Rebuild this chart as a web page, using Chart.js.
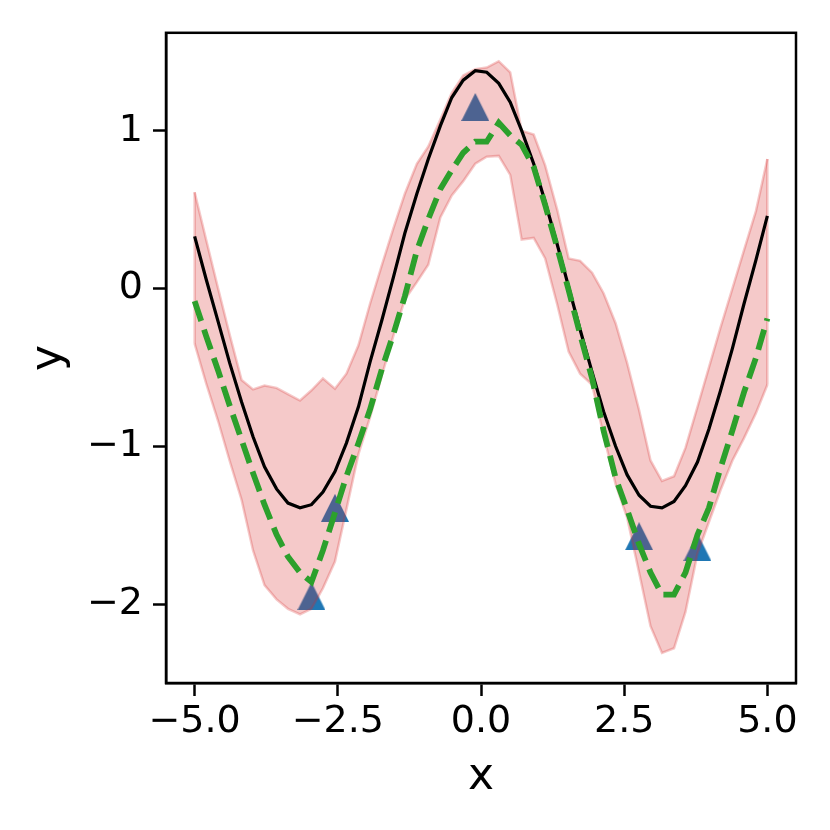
<!DOCTYPE html>
<html>
<head>
<meta charset="utf-8">
<script src="https://cdn.jsdelivr.net/npm/chart.js@4.4.1/dist/chart.umd.min.js"></script>
<style>
  html, body { margin: 0; padding: 0; background: #fff; }
  canvas { display: block; }
</style>
</head>
<body>
<canvas id="gpChart" width="830" height="830"></canvas>
<script>
// sample grid (50 points between -5 and 5)
const xGrid = [
  -5.00, -4.80, -4.59, -4.39, -4.18, -3.98, -3.78, -3.57, -3.37, -3.16,
  -2.96, -2.76, -2.55, -2.35, -2.14, -1.94, -1.73, -1.53, -1.33, -1.12,
  -0.92, -0.71, -0.51, -0.31, -0.10, 0.10, 0.31, 0.51, 0.71, 0.92,
  1.12, 1.33, 1.53, 1.73, 1.94, 2.14, 2.35, 2.55, 2.76, 2.96,
  3.16, 3.37, 3.57, 3.78, 3.98, 4.18, 4.39, 4.59, 4.80, 5.00,
];

// true function (black line)
const truth = [
  0.33, 0.06, -0.21, -0.47, -0.72, -0.94, -1.13, -1.27, -1.36, -1.39,
  -1.37, -1.29, -1.16, -0.98, -0.75, -0.47, -0.20, 0.07, 0.35, 0.60,
  0.82, 1.03, 1.21, 1.32, 1.38, 1.37, 1.30, 1.18, 1.00, 0.79,
  0.55, 0.28, 0.01, -0.26, -0.53, -0.78, -1.00, -1.18, -1.31, -1.38,
  -1.39, -1.35, -1.25, -1.10, -0.89, -0.65, -0.38, -0.10, 0.18, 0.46,
];

// predicted mean (green dashed)
const mean = [
  -0.08, -0.30, -0.52, -0.74, -0.96, -1.17, -1.37, -1.56, -1.70, -1.80,
  -1.86, -1.66, -1.42, -1.19, -0.98, -0.77, -0.51, -0.29, -0.05, 0.24,
  0.44, 0.63, 0.75, 0.86, 0.93, 0.93, 1.05, 0.97, 0.91, 0.77,
  0.53, 0.26, -0.01, -0.29, -0.57, -0.90, -1.20, -1.40, -1.62, -1.80,
  -1.94, -1.94, -1.80, -1.56, -1.39, -1.14, -0.90, -0.66, -0.44, -0.19,
];

// uncertainty band
const bandUpper = [
  0.61, 0.31, 0.00, -0.29, -0.58, -0.64, -0.615, -0.63, -0.67, -0.71,
  -0.645, -0.57, -0.635, -0.54, -0.36, -0.10, 0.15, 0.38, 0.60, 0.79,
  0.90, 1.07, 1.24, 1.35, 1.39, 1.40, 1.44, 1.37, 1.00, 0.975,
  0.78, 0.50, 0.19, 0.175, 0.10, -0.03, -0.22, -0.47, -0.77, -1.09,
  -1.22, -1.19, -1.01, -0.75, -0.50, -0.25, 0.00, 0.24, 0.49, 0.82,
];
const bandLower = [
  -0.35, -0.60, -0.84, -1.09, -1.34, -1.66, -1.88, -1.97, -2.03, -2.065,
  -2.03, -1.90, -1.73, -1.40, -1.05, -0.82, -0.55, -0.30, -0.07, 0.04,
  0.15, 0.45, 0.59, 0.68, 0.79, 0.835, 0.84, 0.72, 0.31, 0.32,
  0.19, -0.10, -0.40, -0.54, -0.61, -0.93, -1.24, -1.45, -1.80, -2.14,
  -2.31, -2.28, -2.05, -1.68, -1.48, -1.28, -1.09, -0.95, -0.79, -0.61,
];

// observed points (triangles)
const obsX = [-2.96, -2.55, -0.10, 2.76, 3.78];
const obsY = [-1.95, -1.39, 1.15, -1.57, -1.64];

const xTicks = [-5, -2.5, 0, 2.5, 5];
const yTicks = [-2, -1, 0, 1];

const bandColor = "rgba(214, 39, 40, 0.25)";
const pts = (xs, ys) => xs.map((x, i) => ({ x, y: ys[i] }));
const minus = (s) => s.replace("-", "\u2212");

// matplotlib-like '^' marker, centred on its box
function triangleMarker(size, color) {
  const c = document.createElement("canvas");
  c.width = size;
  c.height = size;
  const g = c.getContext("2d");
  g.fillStyle = color;
  g.beginPath();
  g.moveTo(size / 2, 0);
  g.lineTo(size, size);
  g.lineTo(0, size);
  g.closePath();
  g.fill();
  return c;
}

const frameBox = {
  id: "frameBox",
  afterDraw(chart) {
    const { ctx, chartArea: a } = chart;
    ctx.save();
    ctx.strokeStyle = "#000";
    ctx.lineWidth = 2.5;
    ctx.strokeRect(a.left, a.top, a.right - a.left, a.bottom - a.top);
    ctx.restore();
  },
};

Chart.defaults.font.family = "'DejaVu Sans', sans-serif";
Chart.defaults.color = "#000";

new Chart(document.getElementById("gpChart"), {
  type: "line",
  data: {
    datasets: [
      {
        data: pts(obsX, obsY),
        showLine: false,
        pointStyle: triangleMarker(28, "#1f77b4"),
        pointRadius: 14,
        order: 6,
      },
      {
        data: pts(xGrid, bandLower),
        borderColor: bandColor,
        borderWidth: 2.5,
        pointRadius: 0,
        fill: false,
        order: 5,
      },
      {
        data: pts(xGrid, bandUpper),
        borderColor: bandColor,
        backgroundColor: bandColor,
        borderWidth: 2.5,
        pointRadius: 0,
        fill: 1,
        order: 4,
      },
      {
        data: [
          { x: xGrid[0], y: bandLower[0] },
          { x: xGrid[0], y: bandUpper[0] },
        ],
        borderColor: bandColor,
        borderWidth: 2.5,
        pointRadius: 0,
        order: 3,
      },
      {
        data: [
          { x: xGrid[xGrid.length - 1], y: bandLower[bandLower.length - 1] },
          { x: xGrid[xGrid.length - 1], y: bandUpper[bandUpper.length - 1] },
        ],
        borderColor: bandColor,
        borderWidth: 2.5,
        pointRadius: 0,
        order: 3,
      },
      {
        data: pts(xGrid, truth),
        borderColor: "#000",
        borderWidth: 3.2,
        pointRadius: 0,
        order: 2,
      },
      {
        data: pts(xGrid, mean),
        borderColor: "#2ca02c",
        borderWidth: 5.8,
        borderDash: [21, 9],
        pointRadius: 0,
        order: 1,
      },
    ],
  },
  options: {
    responsive: false,
    animation: false,
    layout: { padding: { top: 32, right: 34, left: 0, bottom: 0 } },
    plugins: { legend: { display: false }, tooltip: { enabled: false } },
    elements: { line: { tension: 0 } },
    scales: {
      x: {
        type: "linear",
        min: -5.5,
        max: 5.5,
        afterBuildTicks: (s) => { s.ticks = xTicks.map((v) => ({ value: v })); },
        afterFit: (s) => { s.height = 147; },
        ticks: {
          callback: (v) => minus(Number(v).toFixed(1)),
          font: { size: 38 },
          padding: 3,
          maxRotation: 0,
          autoSkip: false,
        },
        grid: { drawOnChartArea: false, tickLength: 13, tickWidth: 2.5, tickColor: "#000" },
        border: { color: "#000", width: 2.5 },
        title: { display: true, text: "x", font: { size: 44 }, padding: { top: 0, bottom: 26 } },
      },
      y: {
        min: -2.5,
        max: 1.62,
        afterBuildTicks: (s) => { s.ticks = yTicks.map((v) => ({ value: v })); },
        afterFit: (s) => { s.width = 166; },
        ticks: {
          callback: (v) => minus(String(v)),
          font: { size: 38 },
          padding: 10,
          autoSkip: false,
        },
        grid: { drawOnChartArea: false, tickLength: 13, tickWidth: 2.5, tickColor: "#000" },
        border: { color: "#000", width: 2.5 },
        title: { display: true, text: "y", font: { size: 44 }, padding: { top: 23, bottom: 0 } },
      },
    },
  },
  plugins: [frameBox],
});
</script>
</body>
</html>
